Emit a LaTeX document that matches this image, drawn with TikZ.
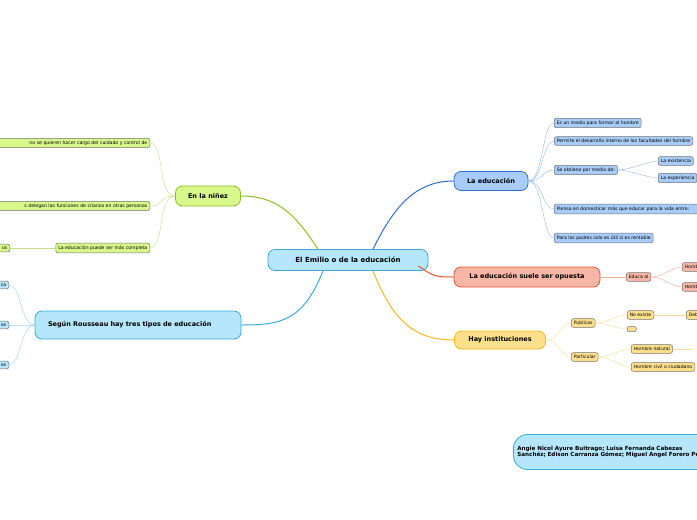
\documentclass[tikz,border=0pt]{standalone}
\usepackage{fontspec}
\setmainfont{DejaVu Sans}
\usetikzlibrary{positioning}
\definecolor{grnF}{HTML}{D8F88C}\definecolor{grnD}{HTML}{8CBF1F}
\definecolor{bluF}{HTML}{A8CCF8}\definecolor{bluD}{HTML}{2D6FD0}
\definecolor{skyF}{HTML}{B5E6FB}\definecolor{skyD}{HTML}{3AA9E0}
\definecolor{redF}{HTML}{F8B6A6}\definecolor{redD}{HTML}{E8502A}
\definecolor{yelF}{HTML}{FDDF8C}\definecolor{yelD}{HTML}{F5B820}
\tikzset{
  main/.style={draw, rounded corners=7pt, line width=0.8pt, font=\bfseries\fontsize{6.5}{7.5}\selectfont, inner sep=4pt},
  leaf/.style={draw=black!55, rounded corners=2pt, line width=0.5pt, font=\fontsize{4.6}{5.6}\selectfont, inner sep=2.5pt, anchor=west},
  lleaf/.style={leaf, anchor=east}
}
\begin{document}
\begin{tikzpicture}[x=1pt,y=-1pt]
\useasboundingbox (0,0) rectangle (697,520);

\node[main, fill=skyF, draw=skyD, minimum width=160pt, minimum height=21pt, font=\bfseries\fontsize{7}{8}\selectfont] (root) at (348,260) {El Emilio o de la educación};

% ninez
\node[main, fill=grnF, draw=grnD, minimum width=65pt, minimum height=20pt] (ninez) at (208,196) {En la niñez};
\node[lleaf, fill=grnF, text width=170pt, align=right] (n1) at (150,143) {no se quieren hacer cargo del cuidado y control de};
\node[lleaf, fill=grnF, text width=170pt, align=right] (n2) at (150,206) {s delegan las funciones de crianza en otras personas};
\node[lleaf, fill=grnF] (n3) at (150,248) {La educación puede ser más completa};
\node[lleaf, fill=grnF, text width=40pt, align=right] (n4) at (10,248) {os};
\draw[grnD, line width=1pt] (root.north) ++(-30,0) .. controls +(-20,-30) and +(40,0) .. (ninez.east);
\foreach \n in {n1,n2,n3}
  \draw[grnD!50] (ninez.west) .. controls +(-18,0) and +(15,0) .. (\n.east);
\draw[grnD!50] (n3.west) -- (n4.east);

% rousseau
\node[main, fill=skyF, draw=skyD, minimum width=206pt, minimum height=28pt, text width=180pt] (rou) at (138,325) {Según Rousseau hay tres tipos de educación};
\node[lleaf, fill=skyF, text width=40pt, align=right] (r1) at (9,285) {ca};
\node[lleaf, fill=skyF, text width=40pt, align=right] (r2) at (9,325) {es};
\node[lleaf, fill=skyF, text width=40pt, align=right] (r3) at (9,365) {es};
\draw[skyD, line width=1pt] (root.south) ++(-25,0) .. controls +(-20,50) and +(40,0) .. (rou.east);
\foreach \n in {r1,r2,r3}
  \draw[skyD!50] (rou.west) .. controls +(-14,0) and +(12,0) .. (\n.east);

% la educacion
\node[main, fill=bluF, draw=bluD, minimum width=74pt, minimum height=19pt] (edu) at (491,181) {La educación};
\node[leaf, fill=bluF] (e1) at (554,123) {Es un medio para formar al hombre};
\node[leaf, fill=bluF] (e2) at (554,141) {Permite el desarrollo interno de las facultades del hombre};
\node[leaf, fill=bluF] (e3) at (554,170) {Se obtiene por medio de:};
\node[leaf, fill=bluF, text width=160pt] (e4) at (554,209) {Piensa en domesticar más que educar para la vida entre:};
\node[leaf, fill=bluF] (e5) at (554,238) {Para los padres solo es útil si es rentable};
\node[leaf, fill=bluF] (e6) at (658,161) {La existencia};
\node[leaf, fill=bluF] (e7) at (658,178) {La experiencia};
\draw[bluD, line width=1pt] (root.north) ++(25,0) .. controls +(20,-40) and +(-40,0) .. (edu.west);
\foreach \n in {e1,e2,e3,e4,e5}
  \draw[bluD!50] (edu.east) .. controls +(15,0) and +(-12,0) .. (\n.west);
\foreach \n in {e6,e7}
  \draw[bluD!50] (e3.east) .. controls +(12,0) and +(-10,0) .. (\n.west);

% opuesta
\node[main, fill=redF, draw=redD, minimum width=146pt, minimum height=20pt] (opu) at (527,277) {La educación suele ser opuesta};
\node[leaf, fill=redF] (o1) at (626,277) {Educa al};
\node[leaf, fill=redF] (o2) at (682,267) {Hombre};
\node[leaf, fill=redF] (o3) at (682,287) {Hombre};
\draw[redD, line width=1pt] (root.east) ++(-10,6) .. controls +(15,10) and +(-20,0) .. (opu.west);
\draw[redD!50] (opu.east) -- (o1.west);
\foreach \n in {o2,o3}
  \draw[redD!50] (o1.east) .. controls +(12,0) and +(-10,0) .. (\n.west);

% instituciones
\node[main, fill=yelF, draw=yelD, minimum width=91pt, minimum height=18pt] (ins) at (500,340) {Hay instituciones};
\node[leaf, fill=yelF] (i1) at (571,323) {Publicas};
\node[leaf, fill=yelF] (i2) at (571,357) {Particular};
\node[leaf, fill=yelF] (i3) at (627,315) {No existe};
\node[leaf, fill=yelF, minimum width=9pt, minimum height=5pt, inner sep=0pt] (i4) at (627,329) {};
\node[leaf, fill=yelF] (i5) at (686,315) {Debe};
\node[leaf, fill=yelF] (i6) at (631,349) {Hombre natural};
\node[leaf, fill=yelF] (i7) at (631,367) {Hombre civil o ciudadano};
\draw[yelD, line width=1pt] (root.south) ++(25,0) .. controls +(20,50) and +(-40,0) .. (ins.west);
\foreach \n in {i1,i2}
  \draw[yelD!50] (ins.east) .. controls +(15,0) and +(-12,0) .. (\n.west);
\foreach \n in {i3,i4}
  \draw[yelD!50] (i1.east) .. controls +(12,0) and +(-10,0) .. (\n.west);
\foreach \n in {i6,i7}
  \draw[yelD!50] (i2.east) .. controls +(12,0) and +(-10,0) .. (\n.west);
\draw[yelD!50] (i3.east) -- (i5.west);
\draw[yelD!50] (i6.east) -- ++(20,0);

% autores
\node[main, fill=skyF, draw=skyD, rounded corners=14pt, anchor=west, minimum height=35pt, text width=190pt, font=\bfseries\fontsize{5.6}{6.6}\selectfont] (aut) at (513,452) {Angie Nicol Ayure Buitrago; Luisa Fernanda Cabezas Sanchéz; Edison Carranza Gómez; Miguel Angel Forero Peña};
\end{tikzpicture}
\end{document}
